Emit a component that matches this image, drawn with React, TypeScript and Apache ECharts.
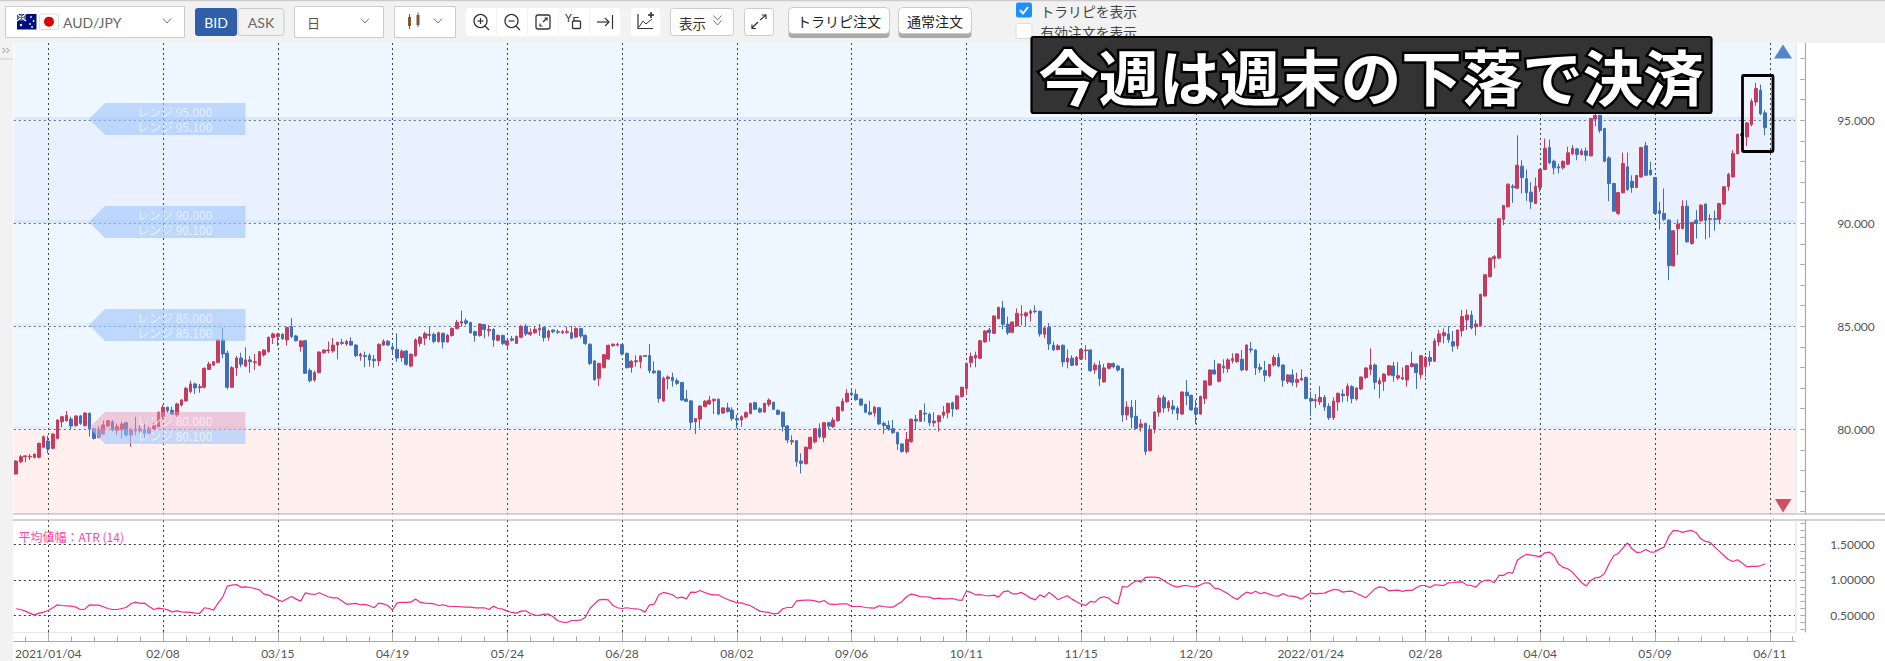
import React, { useEffect, useRef } from "react";
import * as echarts from "echarts";

const tickLabels = ["2021/01/04","02/08","03/15","04/19","05/24","06/28","08/02","09/06","10/11","11/15","12/20","2022/01/24","02/28","04/04","05/09","06/11"];
const priceLabelValues = [80, 85, 90, 95];
const priceTickValues = [76,77,78,79,80,81,82,83,84,85,86,87,88,89,90,91,92,93,94,95,96,97,98];
const atrLabelValues = [0.5, 1, 1.5];
const atrTickValues = [0.3,0.4,0.5,0.6,0.7,0.8,0.9,1,1.1,1.2,1.3,1.4,1.5,1.6,1.7,1.8];
const rangeLevels = [95, 90, 85, 80];

// [open, close, low, high]
const candles: number[][] = [
[77.83,78.46,77.82,78.51],[78.43,78.67,78.35,78.75],[78.67,78.71,78.40,78.75],[78.66,78.69,78.51,78.80],[78.64,78.79,78.59,78.83],
[78.64,79.32,78.59,79.35],[79.13,79.64,79.08,79.69],[79.43,79.05,78.83,79.69],[79.08,79.77,79.03,79.81],[79.56,80.45,79.51,80.49],
[80.37,80.61,80.10,80.66],[80.42,80.68,80.37,80.89],[80.50,80.16,80.00,80.61],[80.18,80.65,80.13,80.66],[80.65,80.29,80.21,80.70],
[80.18,80.79,80.13,80.83],[80.78,80.02,79.64,80.81],[80.02,79.56,79.51,80.05],[79.61,80.00,79.56,80.13],[79.77,80.21,79.72,80.42],
[80.16,80.42,80.13,80.45],[80.37,79.97,79.89,80.45],[79.94,80.13,79.72,80.29],[79.97,80.26,79.56,80.37],[80.32,79.72,79.64,80.37],
[79.72,79.97,79.16,80.05],[79.92,80.00,79.72,80.61],[79.92,80.02,79.77,80.21],[79.97,79.81,79.56,80.32],[79.81,80.02,79.77,80.13],
[80.02,80.21,79.97,80.32],[80.13,80.83,80.10,80.86],[80.61,81.07,80.45,81.18],[81.07,80.91,80.81,81.10],[80.92,80.74,80.70,81.10],
[80.70,81.23,80.61,81.29],[81.18,81.42,81.10,81.47],[81.38,81.99,81.34,82.07],[81.84,82.20,81.75,82.36],[82.20,82.01,81.72,82.27],
[82.02,82.07,81.78,82.20],[82.04,82.96,81.99,83.01],[82.91,83.17,82.88,83.28],[83.12,83.28,83.07,83.32],[83.25,84.34,83.20,84.37],
[84.34,83.66,83.45,84.94],[83.69,82.04,81.94,83.82],[82.04,82.99,82.01,83.07],[82.98,83.46,82.59,83.56],[83.46,83.16,83.01,83.72],
[83.07,83.37,83.01,83.98],[83.37,83.28,82.75,83.56],[83.24,83.28,82.88,83.66],[83.11,83.77,83.07,83.80],[83.61,83.85,83.53,83.88],
[83.77,84.47,83.72,84.50],[84.45,84.63,84.14,84.69],[84.50,84.63,84.05,84.69],[84.61,84.39,84.34,84.66],[84.34,84.94,84.06,84.98],
[84.98,84.50,84.42,85.40],[84.53,84.30,84.26,84.58],[84.01,84.29,83.77,84.34],[84.30,82.72,82.69,84.34],[82.85,82.36,82.27,82.96],
[82.39,82.75,82.31,82.85],[82.75,83.75,82.72,83.79],[83.72,83.85,83.66,83.88],[83.82,83.85,83.69,84.26],[83.80,84.09,83.72,84.43],
[84.09,84.22,83.40,84.26],[84.22,84.17,84.09,84.39],[84.14,84.26,84.05,84.34],[84.27,84.09,84.05,84.47],[84.09,83.58,83.50,84.13],
[83.56,83.64,83.33,83.72],[83.58,83.53,83.01,83.77],[83.58,83.37,83.04,83.69],[83.40,83.33,82.99,83.61],[83.32,84.13,83.07,84.17],
[84.09,84.27,84.05,84.37],[84.27,84.09,84.05,84.34],[84.00,83.88,83.66,84.14],[83.88,83.46,83.28,84.66],[83.48,83.79,83.28,83.88],
[83.80,83.16,83.09,83.85],[83.07,83.64,83.01,83.69],[83.56,84.34,83.53,84.42],[84.17,84.47,84.01,84.53],[84.42,84.64,84.09,84.74],
[84.61,84.56,84.34,84.98],[84.61,84.27,84.17,84.69],[84.26,84.69,84.21,84.74],[84.66,84.24,83.93,84.69],[84.24,84.56,84.21,84.63],
[84.55,84.89,84.50,84.95],[84.89,85.19,84.85,85.31],[85.16,85.23,84.98,85.76],[85.27,85.15,85.06,85.39],[85.18,84.69,84.63,85.23],
[84.74,84.56,84.26,84.79],[84.55,85.11,84.50,85.15],[85.08,84.85,84.42,85.11],[84.79,84.85,84.50,85.06],[84.85,84.34,84.01,84.90],
[84.32,84.56,84.27,84.60],[84.55,84.17,84.09,84.60],[84.09,84.30,83.93,84.37],[84.39,84.32,84.26,84.53],[84.17,84.50,84.14,84.56],
[84.47,85.00,84.42,85.06],[85.00,84.63,84.53,85.11],[84.61,84.71,84.53,84.90],[84.69,84.85,84.63,84.98],[84.82,84.90,84.53,85.11],
[84.94,84.45,84.26,84.98],[84.47,84.77,84.30,84.85],[84.82,84.74,84.66,84.85],[84.74,84.71,84.63,84.85],[84.68,84.74,84.63,84.82],
[84.71,84.74,84.63,84.98],[84.69,84.42,84.37,85.02],[84.48,84.90,84.45,84.94],[84.89,84.53,84.42,84.92],[84.56,84.17,84.09,84.61],
[84.13,83.20,83.12,84.17],[83.32,82.41,82.36,83.35],[82.48,83.20,82.10,83.24],[82.99,83.62,82.96,83.66],[83.41,84.08,83.37,84.11],
[84.06,84.13,84.01,84.17],[84.09,84.13,84.01,84.21],[84.11,83.66,83.59,84.14],[83.69,82.99,82.96,83.72],[83.01,83.30,82.75,83.37],
[83.27,83.33,83.04,83.59],[83.28,83.56,82.96,83.59],[83.58,83.54,83.53,83.60],[83.58,82.85,82.72,84.14],[82.83,82.75,82.69,83.30],
[82.83,81.50,81.29,82.88],[81.38,82.48,81.33,82.56],[82.46,82.54,81.94,82.62],[82.52,82.36,82.07,82.75],[82.36,82.23,82.15,82.48],
[82.27,81.42,81.39,82.30],[81.47,81.36,81.33,81.91],[81.38,80.34,80.02,81.42],[80.36,80.52,79.77,80.55],[80.50,81.13,80.05,81.18],
[81.10,81.36,81.07,81.42],[81.23,81.41,81.18,81.62],[81.39,81.46,80.74,81.49],[81.46,80.74,80.68,81.49],[80.79,81.04,80.74,81.07],
[81.04,80.87,80.81,81.29],[80.94,80.52,80.42,81.07],[80.52,80.45,80.05,80.70],[80.45,80.61,80.13,80.68],[80.60,80.81,80.52,80.87],
[80.76,81.26,80.73,81.29],[81.29,80.97,80.94,81.34],[81.00,80.84,80.79,81.07],[80.84,81.26,80.81,81.29],[81.21,81.42,81.10,81.50],
[81.31,80.97,80.94,81.34],[80.92,80.73,80.70,80.97],[80.83,80.13,79.89,80.86],[80.16,79.48,79.32,80.21],[79.45,79.39,79.24,79.71],
[79.45,78.43,78.19,79.48],[78.46,78.35,77.86,78.83],[78.33,79.13,78.30,79.16],[79.06,79.61,79.03,79.64],[79.39,80.03,79.32,80.06],
[80.03,79.64,79.56,80.29],[79.61,80.32,79.37,80.36],[80.32,80.16,80.00,80.37],[80.13,80.45,80.06,80.58],[80.42,81.08,80.37,81.12],
[80.91,81.36,80.86,81.50],[81.34,81.75,81.29,81.96],[81.76,81.68,81.59,81.94],[81.70,81.44,81.39,81.94],[81.47,81.18,81.13,81.50],
[81.21,80.83,80.78,81.25],[80.83,80.73,80.68,81.38],[80.79,81.08,80.61,81.12],[81.05,80.26,80.21,81.08],[80.29,80.18,79.77,80.37],
[80.19,80.02,79.94,80.42],[80.03,79.84,79.77,80.45],[79.84,79.29,79.00,79.89],[79.29,78.92,78.87,79.32],[78.92,79.51,78.83,79.87],
[79.40,80.49,79.35,80.52],[80.49,80.40,80.00,80.70],[80.39,80.91,80.36,80.94],[80.78,80.74,80.37,81.26],[80.73,80.32,80.16,80.81],
[80.32,80.40,80.13,80.83],[80.37,80.66,79.89,80.70],[80.68,80.84,80.53,81.13],[80.81,81.26,80.53,81.29],[81.29,80.99,80.61,81.34],
[80.99,81.62,80.94,81.67],[81.59,82.04,81.54,82.07],[81.99,83.20,81.67,83.24],[83.24,83.53,83.01,83.72],[83.46,83.59,83.01,83.77],
[83.45,84.30,83.40,84.34],[84.24,84.77,84.21,84.82],[84.82,84.69,84.26,84.92],[84.66,85.50,84.63,85.53],[85.37,85.92,85.34,85.95],
[85.89,85.10,84.85,86.23],[85.10,84.69,84.58,85.47],[84.71,85.21,84.66,85.24],[85.02,85.63,84.98,85.87],[85.55,85.58,85.05,86.02],
[85.50,85.65,85.02,85.71],[85.63,85.73,85.23,85.83],[85.74,85.71,85.63,86.02],[85.73,84.63,84.50,85.76],[84.61,84.92,84.42,84.98],
[84.94,84.14,83.85,85.15],[84.08,83.85,83.82,84.26],[83.88,84.05,83.82,84.14],[84.08,83.27,83.04,84.11],[83.27,83.46,82.96,83.88],
[83.45,83.11,83.07,83.59],[83.12,83.49,83.07,83.56],[83.41,83.88,83.37,83.93],[83.82,83.85,83.37,84.09],[83.85,82.85,82.78,83.88],
[82.88,83.12,82.69,83.24],[83.12,82.46,82.10,83.33],[82.30,82.98,82.27,83.17],[82.96,83.19,82.91,83.24],[83.19,83.04,82.96,83.24],
[83.07,82.88,82.80,83.12],[82.94,80.70,80.37,82.98],[80.70,81.08,80.45,81.36],[81.08,80.58,80.05,81.42],[80.63,80.05,80.00,81.42],
[80.10,80.26,79.89,80.49],[80.29,78.92,78.75,80.32],[78.96,80.00,78.93,80.21],[80.00,80.84,79.81,80.87],[80.83,81.52,80.61,81.67],
[81.55,81.04,80.81,81.67],[81.04,81.33,80.86,81.42],[81.13,80.97,80.74,81.42],[81.02,80.78,80.45,81.13],[80.74,81.81,80.71,81.84],
[81.80,81.63,81.18,82.39],[81.65,80.94,80.91,81.68],[81.04,80.74,80.26,81.42],[80.74,81.60,80.71,81.63],[81.49,82.35,81.23,82.39],
[82.15,82.88,82.10,82.91],[82.88,82.69,82.64,83.37],[82.33,83.17,82.27,83.20],[83.07,82.98,82.72,83.40],[82.95,83.37,82.75,83.45],
[83.33,83.43,83.20,83.69],[83.28,83.66,83.24,83.69],[83.40,82.88,82.82,83.85],[82.88,84.09,82.83,84.13],[83.90,83.85,83.72,84.24],
[83.85,82.98,82.64,83.88],[83.01,82.91,82.75,83.20],[82.85,82.62,82.31,83.32],[82.59,83.14,82.52,83.17],[83.12,83.49,83.04,83.61],
[83.49,83.07,83.01,83.69],[83.12,82.38,82.07,83.15],[82.31,82.64,82.20,82.67],[82.64,82.28,82.10,82.91],[82.28,82.42,82.04,82.75],
[82.39,82.47,82.36,82.91],[82.52,81.50,81.45,82.55],[81.50,81.37,80.65,81.83],[81.39,81.44,81.02,81.71],[81.33,81.55,81.18,82.10],
[81.55,81.08,80.89,81.66],[81.11,80.56,80.45,81.26],[80.56,81.37,80.45,81.55],[81.32,81.75,80.89,81.78],[81.71,81.63,81.34,81.94],
[81.63,82.10,81.34,82.23],[82.07,81.49,81.26,82.15],[81.47,82.00,81.39,82.04],[81.96,82.54,81.91,82.55],[82.51,82.98,82.43,83.01],
[82.91,83.12,82.64,83.93],[83.12,82.28,81.94,83.20],[82.20,82.36,81.50,82.52],[82.33,82.68,81.87,82.72],[82.64,83.09,82.59,83.12],
[83.07,82.60,82.31,83.28],[82.49,82.60,82.39,83.27],[82.44,82.51,82.39,83.01],[82.39,83.09,82.07,83.12],[83.04,83.19,83.01,83.77],
[83.17,82.75,81.96,83.20],[82.65,83.57,82.44,83.61],[83.04,83.49,82.55,83.56],[83.49,83.30,83.07,83.80],[83.30,84.29,83.27,84.42],
[84.24,84.63,84.04,84.82],[84.54,84.69,84.17,84.90],[84.63,84.35,84.20,85.01],[84.25,84.04,83.77,84.77],[84.05,84.82,83.89,84.85],
[84.79,85.47,84.50,85.79],[85.31,85.55,84.82,85.82],[85.55,84.92,84.85,85.76],[84.98,85.11,84.56,85.31],[85.03,86.55,84.98,86.58],
[86.47,87.50,86.44,87.54],[87.41,88.31,87.37,88.34],[88.28,88.38,87.81,88.46],[88.31,90.22,88.28,90.25],[90.19,90.86,89.91,90.90],
[90.80,91.90,90.77,91.93],[91.80,91.74,90.99,91.90],[91.70,92.82,91.67,94.27],[92.77,92.22,91.45,93.06],[92.16,91.48,91.09,92.61],
[91.51,91.04,90.70,92.00],[90.96,91.80,90.93,92.22],[91.74,92.61,91.51,92.66],[92.61,93.64,92.58,94.11],[93.68,92.93,92.87,94.06],
[93.01,92.69,92.38,93.09],[92.74,92.69,92.42,92.90],[92.69,93.00,92.61,93.06],[92.87,93.42,92.82,93.71],[93.38,93.63,93.30,93.79],
[93.61,93.34,93.06,93.66],[93.34,93.51,93.29,93.63],[93.51,93.30,93.03,93.68],[93.27,95.08,93.26,95.11],[95.06,95.24,94.71,95.73],
[95.24,94.51,94.39,95.26],[94.60,93.01,92.96,94.63],[93.17,91.93,91.07,93.25],[91.93,90.59,90.56,91.96],[90.48,91.49,90.40,91.53],
[91.48,92.90,91.45,93.43],[92.74,91.64,91.58,93.43],[92.04,91.74,91.48,92.33],[91.74,92.32,91.70,92.35],[92.25,93.68,92.22,93.71],
[93.76,92.33,92.29,93.95],[92.58,92.35,92.32,92.98],[92.22,90.48,90.44,92.25],[90.61,90.48,89.70,91.04],[90.48,90.19,90.12,91.69],
[90.15,87.94,87.25,90.19],[87.94,89.64,87.89,89.67],[89.73,89.96,88.46,90.19],[89.75,90.83,89.70,91.12],[90.83,89.10,89.05,91.12],
[89.02,90.04,88.96,90.07],[90.15,89.99,89.26,90.64],[90.12,90.88,90.07,90.93],[90.93,90.15,89.22,90.96],[90.19,90.22,89.31,90.44],
[90.22,90.19,89.64,90.61],[90.19,90.96,89.96,90.99],[90.93,91.77,90.88,91.80],[91.77,92.38,91.58,92.45],[92.25,93.38,92.22,93.55],
[93.38,94.32,93.34,94.35],[94.35,94.24,94.19,94.39],[94.19,94.87,93.74,94.92],[94.79,95.92,94.71,96.05],[95.89,96.54,95.70,96.81],
[96.46,95.32,95.24,96.73],[95.36,94.64,94.27,95.49],
];

const atrValues: number[] = [
.592,.582,.559,.531,.502,.531,.545,.568,.606,.648,.638,.634,.629,.615,.582,.587,.648,.643,.643,.620,
.596,.582,.582,.596,.610,.662,.685,.667,.671,.624,.582,.601,.592,.577,.549,.563,.549,.545,.540,.531,
.526,.606,.596,.573,.671,.756,.911,.925,.934,.897,.901,.892,.878,.859,.798,.784,.756,.718,.695,.732,
.765,.728,.700,.817,.803,.793,.817,.789,.761,.746,.746,.700,.657,.662,.667,.648,.653,.634,.606,.671,
.662,.634,.577,.676,.681,.681,.685,.728,.685,.671,.667,.662,.638,.648,.629,.624,.624,.620,.615,.615,
.606,.606,.606,.582,.629,.596,.587,.559,.540,.531,.559,.563,.526,.502,.498,.516,.516,.479,.423,.404,
.399,.427,.427,.432,.474,.596,.662,.718,.723,.718,.638,.606,.596,.606,.596,.592,.582,.545,.648,.657,
.789,.822,.808,.789,.742,.756,.732,.826,.822,.850,.822,.798,.789,.789,.751,.723,.700,.676,.676,.653,
.634,.596,.559,.549,.540,.521,.526,.592,.610,.610,.704,.709,.714,.714,.704,.685,.709,.662,.653,.657,
.662,.662,.624,.624,.624,.610,.606,.601,.634,.624,.615,.615,.657,.695,.765,.798,.784,.761,.761,.756,
.732,.742,.732,.732,.737,.718,.709,.840,.822,.789,.793,.779,.775,.784,.756,.831,.845,.803,.803,.822,
.784,.742,.718,.789,.756,.822,.775,.718,.751,.775,.728,.690,.657,.638,.695,.685,.746,.761,.742,.685,
.657,.906,.897,.948,.986,.967,1.033,1.038,1.038,1.028,.991,.948,.915,.897,.915,.920,.906,.901,.930,.958,
.953,.883,.873,.840,.803,.756,.723,.779,.826,.808,.840,.803,.822,.798,.775,.770,.808,.775,.770,.756,
.728,.775,.817,.803,.808,.812,.840,.864,.859,.826,.836,.840,.808,.779,.746,.808,.873,.901,.892,.845,
.850,.854,.836,.850,.850,.887,.920,.920,.892,.930,.925,.920,.958,.962,.967,.972,.925,.920,.897,.967,
.991,.995,.958,1.061,1.061,1.103,1.094,1.272,1.324,1.357,1.347,1.338,1.324,1.380,1.390,1.343,1.221,1.174,1.155,1.108,
1.033,.962,.911,.991,1.028,1.038,1.089,1.225,1.338,1.371,1.446,1.521,1.437,1.385,1.390,1.427,1.390,1.394,1.432,1.460,
1.610,1.695,1.690,1.667,1.685,1.695,1.662,1.577,1.540,1.526,1.460,1.404,1.343,1.286,1.258,1.282,1.235,1.183,1.188,1.188,1.197,1.225,
];

const SLOT_COUNT = 388;
const FIRST_LABEL = 7, LABEL_STEP = 25, MINOR_STEP = 5;
const isLabelled = (i: number) => i >= FIRST_LABEL && (i - FIRST_LABEL) % LABEL_STEP === 0 && (i - FIRST_LABEL) / LABEL_STEP < tickLabels.length;
const categories = Array.from({ length: SLOT_COUNT }, (_, i) => isLabelled(i) ? tickLabels[(i - FIRST_LABEL) / LABEL_STEP] : `#${i}`);

const JP = '"Noto Sans CJK JP", sans-serif';
const LATO = 'Lato, "Noto Sans", sans-serif';
const PLOT = { left: 13.8, width: 1781.2 };
const GRAY = "#aaaaaa";
const Z = 100;

const T = (x: number, y: number, text: string, fill: string, fontSize: number, extra: any = {}) => ({
  type: "text", x, y, z: Z, silent: true,
  style: { text, fill, fontSize, fontFamily: JP, align: "left", verticalAlign: "middle", ...extra },
});
const R = (x: number, y: number, width: number, height: number, fill: string, stroke?: string, r = 0, lineWidth = 1) => ({
  type: "rect", z: Z, silent: true, shape: { x, y, width, height, r }, style: { fill, stroke: stroke || "none", lineWidth },
});
const L = (x1: number, y1: number, x2: number, y2: number, stroke = "#333", lineWidth = 1.2) => ({
  type: "line", z: Z, silent: true, shape: { x1, y1, x2, y2 }, style: { stroke, lineWidth },
});
const PL = (points: number[][], stroke = "#333", lineWidth = 1.2) => ({
  type: "polyline", z: Z, silent: true, shape: { points }, style: { stroke, lineWidth, fill: "none" },
});
const PG = (points: number[][], fill: string) => ({
  type: "polygon", z: Z, silent: true, shape: { points }, style: { fill },
});
const C = (cx: number, cy: number, r: number, fill: string, stroke = "none", lineWidth = 1.3) => ({
  type: "circle", z: Z, silent: true, shape: { cx, cy, r }, style: { fill, stroke, lineWidth },
});
const chevron = (x: number, y: number) => PL([[x - 4, y - 2.5], [x, y + 2], [x + 4, y - 2.5]], "#777", 1);

const rangeLabel = (level: number, y0: number) => {
  const up = `レンジ ${level.toFixed(3)}`;
  const lo = `レンジ ${(level + 0.1).toFixed(3)}`;
  const text = [
    T(137, y0 + 8, up, "rgba(255,255,255,0.6)", 12),
    T(137, y0 + 23, lo, "rgba(255,255,255,0.65)", 12),
  ];
  if (level === 80) {
    return [
      PG([[89, y0 + 16], [105, y0], [245.5, y0], [245.5, y0 + 17], [90, y0 + 17]], "rgba(235,150,178,0.48)"),
      PG([[90, y0 + 17], [245.5, y0 + 17], [245.5, y0 + 32], [105, y0 + 32]], "rgba(158,196,252,0.6)"),
      ...text,
    ];
  }
  return [PG([[89, y0 + 16], [105, y0], [245.5, y0], [245.5, y0 + 32], [105, y0 + 32]], "rgba(158,196,252,0.6)"), ...text];
};

const buildGraphics = () => [
  // page chrome
  R(0, 0, 1885, 43, "#f2f2f2"),
  R(0, 0, 13, 661, "#f2f2f2"),
  L(0, 0.5, 1885, 0.5, "#cccccc", 1.5),
  PL([[2.5, 48], [5, 50.5], [2.5, 53]], "#888", 1), PL([[6.5, 48], [9, 50.5], [6.5, 53]], "#888", 1),
  L(0, 59, 13, 59, "#cccccc", 1),
  // pane frames
  L(13, 514, 1885, 514, GRAY, 1.2), L(13, 520, 1885, 520, GRAY, 1.2),
  L(1796, 43, 1796, 514, "#dddddd", 1), L(1796, 520, 1796, 632, "#dddddd", 1),
  // pair select
  R(5.5, 6.5, 179, 31, "#fff", "#cccccc"),
  R(17, 14, 19.5, 15.5, "#00107a"),
  L(17, 14, 26, 21, "#fff", 1.4), L(26, 14, 17, 21, "#fff", 1.4), L(21.5, 14, 21.5, 21, "#fff", 1.6), L(17, 17.5, 26, 17.5, "#fff", 1.6),
  L(21.5, 14, 21.5, 21, "#d8152f", 0.8), L(17, 17.5, 26, 17.5, "#d8152f", 0.8),
  C(21, 25, 1.2, "#fff"), C(31, 17, 0.8, "#fff"), C(33.5, 21, 0.8, "#fff"), C(30, 24, 0.8, "#fff"), C(32, 27, 0.8, "#fff"),
  R(39.5, 14, 19, 15.5, "#fff", "#dddddd", 2),
  C(49, 21.7, 5, "#e00000"),
  T(63, 22, "AUD/JPY", "#666", 14, { fontFamily: LATO }),
  chevron(167, 21),
  // BID / ASK
  R(195, 8, 42, 28, "#2f5fa8", undefined, 3),
  T(216, 22, "BID", "#fff", 14, { fontFamily: LATO, align: "center" }),
  R(238, 8.5, 46, 27, "#f2f2f2", "#cccccc", 3),
  T(261, 22, "ASK", "#666", 14, { fontFamily: LATO, align: "center" }),
  // period select
  R(294.5, 6.5, 89, 31, "#fff", "#cccccc"),
  T(307, 22, "日", "#555", 13),
  chevron(365, 21),
  // chart type select
  R(394.5, 6.5, 61, 31, "#fff", "#cccccc"),
  R(408, 17, 3, 9, "#8a5a3a"), L(409.5, 14, 409.5, 29, "#555", 1),
  R(416.5, 15, 3, 10, "#8a5a3a"), L(418, 12.5, 418, 27, "#555", 1),
  chevron(438, 21),
  // tool icons
  R(466, 8, 154, 28, "#fff", undefined, 4),
  L(496.5, 9, 496.5, 35, "#f2f2f2", 1), L(527.5, 9, 527.5, 35, "#f2f2f2", 1), L(558.5, 9, 558.5, 35, "#f2f2f2", 1), L(589.5, 9, 589.5, 35, "#f2f2f2", 1),
  C(480.5, 21, 6.5, "none", "#333"), L(485, 26, 489, 30), L(477.5, 21, 483.5, 21), L(480.5, 18, 480.5, 24),
  C(511.5, 21, 6.5, "none", "#333"), L(516, 26, 520, 30), L(508.5, 21, 514.5, 21),
  R(536, 15, 14, 14, "none", "#333", 2, 1.3), PL([[543, 22], [547, 18]]), PL([[544.5, 18], [547, 18], [547, 20.5]]), PL([[540, 23.5], [540, 26], [542.5, 26]]),
  T(565, 17, "Y", "#333", 11, { fontFamily: LATO }), R(572.5, 21, 8, 7.5, "none", "#333", 1, 1.3), PL([[574, 21], [574, 17.5], [578.5, 17.5]]),
  L(597, 22, 609, 22), PL([[605, 18], [609, 22], [605, 26]]), L(612.5, 15, 612.5, 29),
  // chart add button
  R(631, 8, 29, 28, "#fff", undefined, 4),
  PL([[638, 14], [638, 28.5], [653, 28.5]]), PL([[639, 27], [643, 21], [646, 24], [652, 19]], "#333", 1), L(648, 15, 654, 15, "#333", 1.6), L(651, 12, 651, 18, "#333", 1.6),
  // view button
  R(670.5, 8.5, 63, 27, "#fff", "#cccccc", 3),
  T(679, 22.5, "表示", "#333", 13.5),
  chevron(717.5, 18), chevron(717.5, 23),
  // expand button
  R(744.5, 8.5, 29, 27, "#fff", "#cccccc", 3),
  L(752, 28, 758, 22), PL([[752, 24.5], [752, 28.5], [756, 28.5]]),
  L(760, 20, 766, 15), PL([[762, 15], [766, 15], [766, 19]]),
  // order buttons
  R(788.5, 8, 101, 30, "#aaaaaa", undefined, 4),
  R(788.5, 7.5, 101, 26, "#fff", "#cccccc", 4),
  T(839, 21, "トラリピ注文", "#222", 14, { align: "center" }),
  R(898.5, 8, 73, 30, "#aaaaaa", undefined, 4),
  R(898.5, 7.5, 73, 26, "#fff", "#cccccc", 4),
  T(935, 21, "通常注文", "#222", 14, { align: "center" }),
  // checkboxes
  R(1016, 2.5, 16, 15, "#1e8fff", undefined, 2),
  PL([[1020, 10], [1023, 13.5], [1028, 7]], "#fff", 2),
  T(1040.5, 11, "トラリピを表示", "#444", 13.8),
  R(1016, 23.5, 16, 15, "#fff", "#dddddd", 2),
  T(1040.5, 32, "有効注文を表示", "#444", 13.8),
  // range labels
  ...rangeLabel(95, 103), ...rangeLabel(90, 206), ...rangeLabel(85, 309), ...rangeLabel(80, 412),
  // range end markers
  PG([[1783, 44.5], [1792, 58.5], [1774, 58.5]], "#5585c8"),
  PG([[1775, 499], [1791.5, 499], [1783, 512.5]], "#d05060"),
  // ATR caption
  T(18.5, 536, "平均値幅：ATR (14)", "#ff4aa2", 12),
  // annotation
  R(1031.5, 37, 680, 76, "#333333", "#000000", 2, 2.2),
  T(1371, 74, "今週は週末の下落で決済", "#ffffff", 60.5, { align: "center", stroke: "#000000", lineWidth: 5, fontWeight: "bold" }),
  R(1742.5, 75.5, 30.5, 76, "none", "#000000", 1, 2.8),
];

const bandAreas = [
  { from: 95, to: 98.75, color: "#eef6ff" },
  { from: 90, to: 95, color: "#e9f1fe" },
  { from: 80, to: 90, color: "#eef6ff" },
  { from: 75.89, to: 80, color: "#ffefef" },
  { from: 95, to: 95.16, color: "#dce9fb" },
  { from: 90, to: 90.16, color: "#d9e8fd" },
  { from: 85, to: 85.16, color: "#e2eefc" },
  { from: 80, to: 80.16, color: "#e5effc" },
];

const dashed = (color: string) => ({ type: [2, 3] as number[], color, width: 1 });

export default function App() {
  const ref = useRef<HTMLDivElement>(null);
  useEffect(() => {
    const chart = echarts.init(ref.current!, undefined, { renderer: "svg" });
    const xBase = { type: "category", data: categories, boundaryGap: true, z: 3 };
    const vertical = {
      show: true,
      interval: (i: number) => isLabelled(i),
      alignWithLabel: true,
      lineStyle: dashed("#444"),
    };
    chart.setOption({
      animation: false,
      backgroundColor: "#ffffff",
      grid: [
        { left: PLOT.left, width: PLOT.width, top: 43, height: 471 },
        { left: PLOT.left, width: PLOT.width, top: 520, height: 112 },
        { left: PLOT.left, width: PLOT.width, top: 632, height: 9 },
        { left: PLOT.left, width: PLOT.width, top: 632, height: 9 },
      ],
      xAxis: [
        { ...xBase, gridIndex: 0, axisLine: { show: false }, axisTick: { show: false }, axisLabel: { show: false }, splitLine: vertical },
        { ...xBase, gridIndex: 1, axisLine: { show: true, lineStyle: { color: "#e6e6e6", width: 1 } }, axisTick: { show: false }, axisLabel: { show: false }, splitLine: vertical },
        {
          ...xBase, gridIndex: 2,
          axisLine: { show: true, lineStyle: { color: GRAY, width: 1.2 } },
          axisTick: { show: true, inside: true, length: 4.5, alignWithLabel: true, interval: (i: number) => i % MINOR_STEP === FIRST_LABEL % MINOR_STEP, lineStyle: { color: GRAY } },
          axisLabel: { show: true, interval: (i: number) => isLabelled(i), margin: 6, color: "#555555", fontFamily: LATO, fontSize: 12 },
          splitLine: { show: false },
        },
        {
          ...xBase, gridIndex: 3,
          axisLine: { show: false },
          axisTick: { show: true, inside: true, length: 9, alignWithLabel: true, interval: (i: number) => isLabelled(i), lineStyle: { color: GRAY } },
          axisLabel: { show: false },
          splitLine: { show: false },
        },
      ],
      yAxis: [
        {
          type: "value", gridIndex: 0, position: "right", offset: 9.8, min: 75.89, max: 98.75, scale: true,
          axisLine: { show: true, lineStyle: { color: GRAY, width: 1.2 } },
          axisTick: { show: true, inside: true, length: 4.5, customValues: priceTickValues, lineStyle: { color: GRAY } },
          axisLabel: { show: true, customValues: priceLabelValues, inside: false, margin: 70, align: "right", color: "#555555", fontFamily: LATO, fontSize: 12, formatter: (v: number) => v.toFixed(3) },
          splitLine: { show: false },
        },
        {
          type: "value", gridIndex: 1, position: "right", offset: 9.8, min: 0.265, max: 1.842, scale: true,
          axisLine: { show: true, lineStyle: { color: GRAY, width: 1.2 } },
          axisTick: { show: true, inside: true, length: 4.5, customValues: atrTickValues, lineStyle: { color: GRAY } },
          axisLabel: { show: true, customValues: atrLabelValues, margin: 70, align: "right", color: "#555555", fontFamily: LATO, fontSize: 12, formatter: (v: number) => v.toFixed(5) },
          splitLine: { show: false },
        },
        { type: "value", gridIndex: 2, show: false },
        { type: "value", gridIndex: 3, show: false },
      ],
      series: [
        {
          type: "candlestick", name: "AUD/JPY", xAxisIndex: 0, yAxisIndex: 0, z: 4,
          data: candles, barWidth: 3.2,
          itemStyle: { color: "#c83a5c", color0: "#3e6fb9", borderColor: "#c83a5c", borderColor0: "#3e6fb9", borderWidth: 1 },
          markArea: {
            silent: true, z: 1,
            data: bandAreas.map((b) => [{ yAxis: b.from, itemStyle: { color: b.color, opacity: 1 } }, { yAxis: b.to }]),
          },
          markLine: {
            silent: true, symbol: "none", z: 3, label: { show: false },
            data: rangeLevels.map((v) => ({ yAxis: v, lineStyle: dashed(v === 80 ? "#7a6068" : "#60748f") })),
          },
        },
        {
          type: "line", name: "ATR (14)", xAxisIndex: 1, yAxisIndex: 1, z: 4,
          data: atrValues, showSymbol: false, symbol: "none",
          lineStyle: { color: "#f22a8a", width: 1.2 },
          markLine: {
            silent: true, symbol: "none", z: 3, label: { show: false },
            data: atrLabelValues.map((v) => ({ yAxis: v, lineStyle: dashed("#333") })),
          },
        },
      ],
      graphic: { elements: buildGraphics() },
    });
    return () => chart.dispose();
  }, []);
  return <div ref={ref} style={{ position: "fixed", left: 0, top: 0, width: 1885, height: 661 }} />;
}
